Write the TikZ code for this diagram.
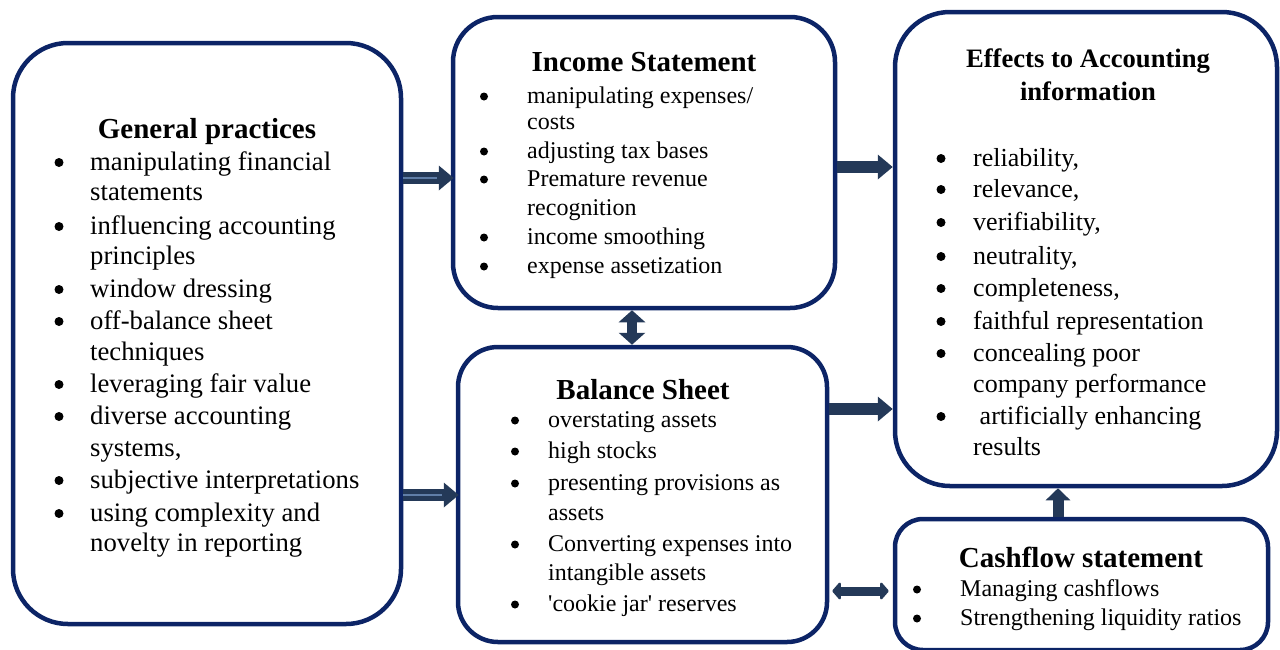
\documentclass[tikz,border=0pt]{standalone}
\usepackage{fontspec}
\setmainfont{Liberation Serif}
\usetikzlibrary{arrows.meta}

\definecolor{navy}{RGB}{12,36,102}
\definecolor{arrowc}{RGB}{36,57,88}
\definecolor{arrowl}{RGB}{96,126,168}

\tikzset{
	panel/.style={draw=navy, line width=4.5pt, inner sep=0pt},
	head/.style={anchor=base, inner sep=0pt, font=\bfseries\fontsize{29}{33}\selectfont},
	itemA/.style={anchor=base west, inner sep=0pt, font=\fontsize{26.7}{30}\selectfont},
	itemB/.style={anchor=base west, inner sep=0pt, font=\fontsize{24}{28}\selectfont},
	itemC/.style={anchor=base west, inner sep=0pt, font=\fontsize{26}{30}\selectfont},
	dot/.style={circle, fill=black, inner sep=0pt, minimum size=9pt},
	blk/.style={draw=arrowc, line width=12pt, -{Triangle[length=15pt,width=24pt]}},
	midline/.style={draw=arrowl, line width=1.2pt}
}

\begin{document}
\begin{tikzpicture}[x=1pt, y=-1pt]
	\useasboundingbox (0,0) rectangle (1280,649);

	\node[panel, minimum width=388pt, minimum height=581pt, rounded corners=55pt] (gen) at (207,333.5) {};
	\node[panel, minimum width=382pt, minimum height=291pt, rounded corners=45pt] (inc) at (644,162.5) {};
	\node[panel, minimum width=369pt, minimum height=295pt, rounded corners=40pt] (bal) at (642.5,494.5) {};
	\node[panel, minimum width=382pt, minimum height=474pt, rounded corners=55pt] (eff) at (1086,249) {};
	\node[panel, minimum width=373pt, minimum height=131pt, rounded corners=28pt] (cash) at (1081.5,584.5) {};

	\node[head] (genhead) at (207,138) {General practices};
	\node[head] (inchead) at (644,71) {Income Statement};
	\node[head] (balhead) at (643,399) {Balance Sheet};
	\node[head, font=\bfseries\fontsize{26.6}{30}\selectfont] (effhead) at (1088,67) {Effects to Accounting};
	\node[head, font=\bfseries\fontsize{26.6}{30}\selectfont] (effhead2) at (1088,100) {information};
	\node[head] (cashhead) at (1081,567) {Cashflow statement};

	\foreach \y/\t in {162/{manipulating financial}, 192/statements, 226/{influencing accounting}, 256/principles,
		289/{window dressing}, 321/{off-balance sheet}, 352/techniques, 384/{leveraging fair value},
		416/{diverse accounting}, 448/{systems,}, 480/{subjective interpretations}, 513/{using complexity and}, 543/{novelty in reporting}}
	{
	\node[itemA] (gp\y) at (90,\y+8) {\t};
}
	\foreach \y in {162,226,289,321,384,416,480,513}
		\node[dot] (gb\y) at (59,\y+0.5) {};

	\foreach \y/\t in {96/{manipulating expenses/}, 122/costs, 151/{adjusting tax bases}, 179/{Premature revenue},
		208/recognition, 237/{income smoothing}, 266/{expense assetization}}
	{
	\node[itemB] (ip\y) at (527,\y+7) {\t};
}
	\foreach \y in {96,151,179,237,266}
		\node[dot, minimum size=8pt] (ib\y) at (484,\y+0.5) {};

	\foreach \y/\t in {420/{overstating assets}, 451/{high stocks}, 483/{presenting provisions as}, 513/assets,
		544/{Converting expenses into}, 573/{intangible assets}, 604/{\textquotesingle cookie jar\textquotesingle{} reserves}}
	{
	\node[itemB] (bp\y) at (548,\y+7) {\t};
}
	\foreach \y in {420,451,483,544,604}
		\node[dot, minimum size=8pt] (bb\y) at (515,\y+0.5) {};

	\foreach \y/\t in {158/{reliability,}, 189/{relevance,}, 222/{verifiability,}, 256/{neutrality,}, 288/{completeness,},
		321/{faithful representation}, 353/{concealing poor}, 384/{company performance}, 416/{\ artificially enhancing}, 447/results}
	{
	\node[itemC] (ep\y) at (973,\y+8) {\t};
}
	\foreach \y in {158,189,222,256,288,321,353,416}
		\node[dot] (eb\y) at (941,\y+0.5) {};

	\node[itemB] (cp1) at (960,596) {Managing cashflows};
	\node[itemB] (cp2) at (960,625) {Strengthening liquidity ratios};
	\node[dot, minimum size=8pt] (cb1) at (917,589.5) {};
	\node[dot, minimum size=8pt] (cb2) at (917,618.5) {};

	\draw[blk, shorten >=-3pt] ([yshift=155.5pt]gen.east) -- ([yshift=-15.5pt]inc.west);
	\draw[midline] ([yshift=155.5pt]gen.east) -- ([yshift=-15.5pt, xshift=-14pt]inc.west);
	\draw[blk, shorten >=-3pt] ([yshift=-161.5pt]gen.east) -- ([yshift=-0.5pt]bal.west);
	\draw[midline] ([yshift=-161.5pt]gen.east) -- ([yshift=-0.5pt, xshift=-14pt]bal.west);

	\draw[blk] ([yshift=-4.5pt]inc.east) -- ([yshift=82pt]eff.west);
	\draw[blk] ([yshift=85.5pt]bal.east) -- ([yshift=-160pt]eff.west);

	\draw[blk, line width=10pt, {Triangle[length=12pt,width=26pt]}-{Triangle[length=12pt,width=26pt]}]
		([xshift=-12pt]inc.south) -- ([xshift=-10.5pt]bal.north);
	\draw[blk, line width=9pt, shorten <=3pt, shorten >=4pt,
		{Triangle[round,length=9pt,width=20pt]}-{Triangle[round,length=9pt,width=20pt]}]
		([yshift=-96.5pt]bal.east) -- ([yshift=-6.5pt]cash.west);
	\draw[blk, line width=11pt, -{Triangle[length=12pt,width=24pt]}]
		([xshift=-23.5pt]cash.north) -- ([xshift=-28pt]eff.south);

\end{tikzpicture}
\end{document}
